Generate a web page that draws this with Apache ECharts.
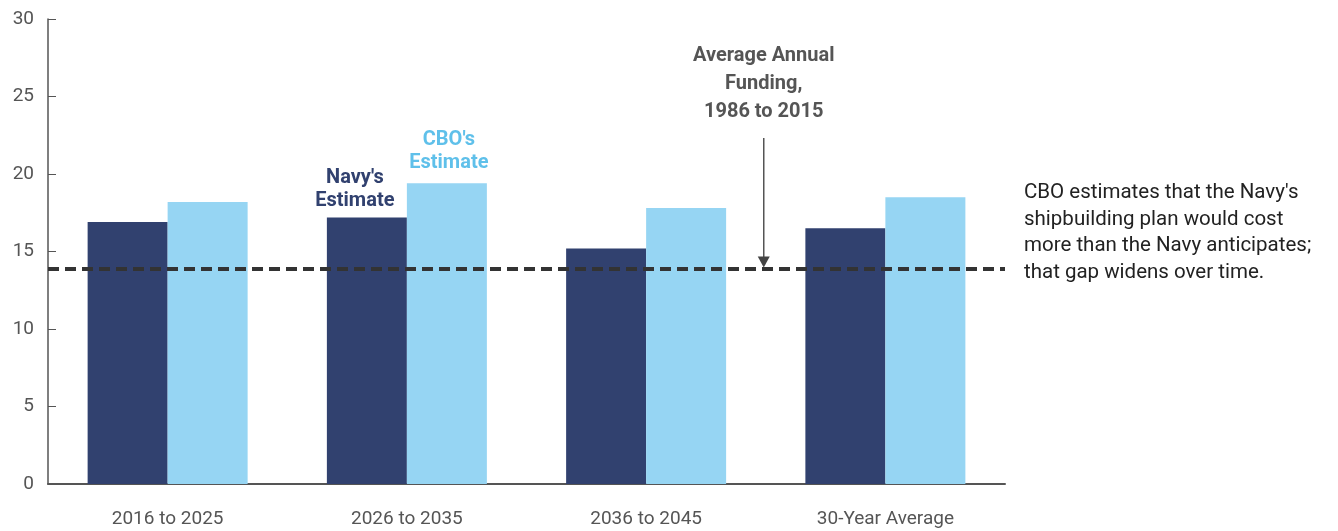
<!DOCTYPE html>
<html><head><meta charset="utf-8">
<script src="https://cdn.jsdelivr.net/npm/echarts@6/dist/echarts.min.js"></script>
<style>html,body{margin:0;padding:0;background:#fff}#c{width:1338px;height:531px}</style>
</head><body><div id="c"></div>
<script>
const categories = ['2016 to 2025', '2026 to 2035', '2036 to 2045', '30-Year Average'];
const navyEstimate = [16.9, 17.2, 15.2, 16.5];
const cboEstimate = [18.2, 19.4, 17.8, 18.5];
const averageAnnualFunding = 13.9;
const yTicks = [0, 5, 10, 15, 20, 25, 30];
const FONT = '"Roboto", sans-serif';

const chart = echarts.init(document.getElementById('c'), null, {renderer: 'canvas'});
const option = {
  animation: false,
  grid: {left: 48, right: 333, top: 19, bottom: 47},
  xAxis: {
    type: 'category', data: categories,
    axisLine: {lineStyle: {color: '#555', width: 2}},
    axisTick: {show: false},
    axisLabel: {color: '#555', fontSize: 19, fontFamily: FONT, margin: 26}
  },
  yAxis: {
    type: 'value', min: yTicks[0], max: yTicks[yTicks.length - 1], interval: 5,
    splitLine: {show: false},
    axisLine: {show: true, lineStyle: {color: '#555', width: 1.5}},
    axisTick: {show: true, inside: true, length: 8, lineStyle: {color: '#555'}},
    axisLabel: {color: '#555', fontSize: 19, fontFamily: FONT, margin: 14}
  },
  series: [
    {
      name: "Navy's Estimate", type: 'bar', barWidth: 80, barGap: '0%',
      itemStyle: {color: '#31416f'},
      data: navyEstimate.map((v, i) => i === 1 ? {value: v, label: {show: true, position: 'top', offset: [-12, 0], formatter: "Navy's\nEstimate", color: '#31416f', fontWeight: 'bold', fontSize: 20, lineHeight: 23, fontFamily: FONT}} : v),
      markLine: {
        silent: true, symbol: 'none',
        lineStyle: {color: '#333', type: [11, 6], width: 4},
        label: {show: false},
        data: [{yAxis: averageAnnualFunding}]
      }
    },
    {
      name: "CBO's Estimate", type: 'bar', barWidth: 80,
      itemStyle: {color: '#96d5f3'},
      data: cboEstimate.map((v, i) => i === 1 ? {value: v, label: {show: true, position: 'top', offset: [2, -4], formatter: "CBO's\nEstimate", color: '#5fc0ea', fontWeight: 'bold', fontSize: 20, lineHeight: 23, fontFamily: FONT}} : v)
    }
  ]
};
chart.setOption(option);

const p2 = chart.convertToPixel({gridIndex: 0}, [2, averageAnnualFunding]);
const p3 = chart.convertToPixel({gridIndex: 0}, [3, averageAnnualFunding]);
const ax = (p2[0] + p3[0]) / 2 - 2;
const ay = p2[1];
chart.setOption({
  graphic: [
    {type: 'line', shape: {x1: ax, y1: 138, x2: ax, y2: ay - 9}, style: {stroke: '#555', lineWidth: 1.5}},
    {type: 'polygon', shape: {points: [[ax - 6, ay - 12], [ax + 6, ay - 12], [ax, ay - 1]]}, style: {fill: '#444'}},
    {type: 'text', x: ax, y: 42, style: {text: 'Average Annual\nFunding,\n1986 to 2015', align: 'center', fill: '#555', font: 'bold 20px ' + FONT, lineHeight: 28}},
    {type: 'text', x: 1024, y: 180, style: {text: "CBO estimates that the Navy's\nshipbuilding plan would cost\nmore than the Navy anticipates;\nthat gap widens over time.", fill: '#222', font: '20.5px ' + FONT, lineHeight: 26.5}}
  ]
});
</script></body></html>
